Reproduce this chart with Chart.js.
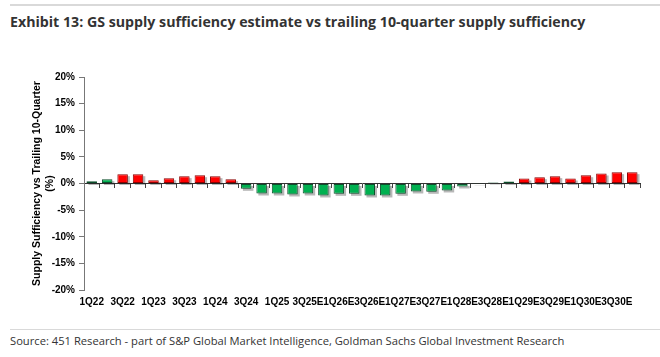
<!DOCTYPE html>
<html>
<head>
<meta charset="utf-8">
<script src="https://cdn.jsdelivr.net/npm/chart.js@4.4.1/dist/chart.umd.min.js"></script>
<style>
  html, body { margin: 0; padding: 0; background: #fff; width: 660px; height: 357px; overflow: hidden; }
  #topline { position: absolute; left: 10px; top: 4px; width: 650px; height: 2px; background: #d9d9d9; }
  #title { position: absolute; left: 10px; top: 12px; font-family: "Open Sans", sans-serif; font-weight: 700; font-size: 14.2px; color: #333; white-space: nowrap; }
  #chartbox { position: absolute; left: 0; top: 60px; width: 660px; height: 250px; }
  #botline { position: absolute; left: 10px; top: 329px; width: 650px; height: 1px; background: #d9d9d9; }
  #source { position: absolute; left: 10px; top: 333px; font-family: "Open Sans", sans-serif; font-size: 11.2px; color: #333; white-space: nowrap; }
</style>
</head>
<body>
<div id="topline"></div>
<div id="title">Exhibit 13: GS supply sufficiency estimate vs trailing 10-quarter supply sufficiency</div>
<div id="chartbox"><canvas id="c"></canvas></div>
<div id="botline"></div>
<div id="source">Source: 451 Research - part of S&amp;P Global Market Intelligence, Goldman Sachs Global Investment Research</div>
<script>
// ---- data ----
const quarters = [
  '1Q22','2Q22','3Q22','4Q22',
  '1Q23','2Q23','3Q23','4Q23',
  '1Q24','2Q24','3Q24','4Q24',
  '1Q25','2Q25','3Q25E','4Q25E',
  '1Q26E','2Q26E','3Q26E','4Q26E',
  '1Q27E','2Q27E','3Q27E','4Q27E',
  '1Q28E','2Q28E','3Q28E','4Q28E',
  '1Q29E','2Q29E','3Q29E','4Q29E',
  '1Q30E','2Q30E','3Q30E','4Q30E'
];
const sufficiencyGap = [
  0.40, 0.80, 1.75, 1.75,
  0.63, 1.00, 1.38, 1.56,
  1.38, 0.81, -1.00, -1.88,
  -1.88, -2.06, -1.88, -2.25,
  -1.94, -1.94, -2.25, -2.25,
  -1.94, -1.50, -1.56, -1.31,
  -0.56, 0.05, 0.19, 0.38,
  0.94, 1.19, 1.38, 0.94,
  1.56, 1.88, 2.13, 2.13
];
// quarters drawn in green despite a positive value
const greenQuarters = ['1Q22','2Q22','2Q28E','3Q28E','4Q28E'];
const yTicks = [-20, -15, -10, -5, 0, 5, 10, 15, 20];

// ---- chart ----
const isGreen = (i) => sufficiencyGap[i] < 0 || greenQuarters.includes(quarters[i]);

const shadowPlugin = {
  id: 'barShadow',
  beforeDatasetDraw(chart, args) {
    const meta = args.meta;
    const ctx = chart.ctx;
    ctx.save();
    ctx.fillStyle = 'rgba(0,0,0,0.28)';
    meta.data.forEach((el) => {
      const p = el.getProps(['x', 'y', 'base', 'width'], true);
      const top = Math.min(p.y, p.base);
      const h = Math.abs(p.base - p.y);
      ctx.fillRect(p.x - p.width / 2 + 2, top + 2, p.width, h);
    });
    ctx.restore();
  }
};

new Chart(document.getElementById('c'), {
  type: 'bar',
  data: {
    labels: quarters,
    datasets: [{
      data: sufficiencyGap,
      xAxisID: 'x',
      yAxisID: 'y',
      backgroundColor: (c) => isGreen(c.dataIndex) ? '#00b050' : '#ff0000',
      borderColor: (c) => isGreen(c.dataIndex) ? '#0b4d2a' : '#8b0000',
      borderWidth: 1,
      borderSkipped: false,
      categoryPercentage: 1,
      barPercentage: 0.68
    }]
  },
  options: {
    responsive: true,
    maintainAspectRatio: false,
    animation: false,
    layout: { padding: { left: 31, right: 20, top: 17, bottom: 0 } },
    plugins: { legend: { display: false }, tooltip: { enabled: false } },
    scales: {
      x: {
        type: 'category',
        position: 'bottom',
        offset: true,
        border: { display: false },
        grid: { display: false },
        ticks: {
          autoSkip: false,
          maxRotation: 0,
          minRotation: 0,
          padding: -2,
          color: '#000',
          font: { family: 'Liberation Sans, Arial, sans-serif', size: 10, weight: 'bold' },
          callback: function (v, i) { return i % 2 === 0 ? this.getLabelForValue(v) : ''; }
        },
        afterFit: (s) => { s.height = 20; }
      },
      x2: {
        type: 'category',
        labels: quarters,
        position: { y: 0 },
        offset: true,
        border: { display: true, color: '#333', width: 1 },
        grid: { display: true, drawOnChartArea: false, drawTicks: true, tickLength: 4, color: '#444', offset: true },
        ticks: { display: false, autoSkip: false }
      },
      y: {
        min: -20,
        max: 20,
        afterBuildTicks: (s) => { s.ticks = yTicks.map(v => ({ value: v })); },
        border: { display: true, color: '#777', width: 1 },
        grid: { display: true, drawOnChartArea: false, drawTicks: true, tickLength: 5, color: '#777' },
        ticks: {
          padding: 4,
          color: '#000',
          font: { family: 'Liberation Sans, Arial, sans-serif', size: 10, weight: 'bold' },
          callback: (v) => v + '%'
        },
        title: {
          display: true,
          text: ['Supply Sufficiency vs Trailing 10-Quarter', '(%)'],
          color: '#000',
          font: { family: 'Liberation Sans, Arial, sans-serif', size: 10.5, weight: 'bold' },
          padding: { top: 0, bottom: 0 }
        },
        afterFit: (s) => { s.width = 53; }
      }
    }
  },
  plugins: [shadowPlugin]
});
</script>
</body>
</html>
